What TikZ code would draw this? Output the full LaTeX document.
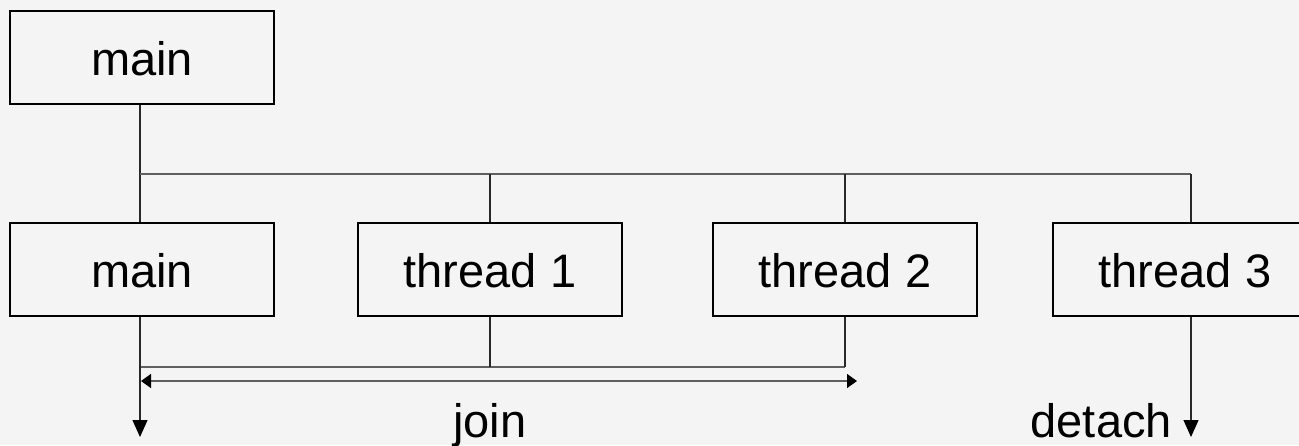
\documentclass[tikz,border=0pt]{standalone}
\usepackage{fontspec}
\setmainfont{Liberation Sans}
\usetikzlibrary{arrows.meta,calc}
\definecolor{bg}{RGB}{244,244,244}
\definecolor{wire}{RGB}{40,40,40}
\definecolor{rail}{RGB}{95,95,95}
\begin{document}
\begin{tikzpicture}[x=1pt,y=-1pt,
  every node/.style={font=\fontsize{47}{56}\selectfont},
  taskbox/.style={draw=black,line width=1.1pt,rectangle,inner sep=0pt,
    minimum width=264pt,minimum height=93pt,text height=36pt,text depth=0pt},
  wireline/.style={draw=wire,line width=1.1pt},
  railline/.style={draw=rail,line width=1.3pt},
  downtip/.style={-{Triangle[width=15pt,length=17pt,color=black,fill=black]}},
  sidetip/.style={{Triangle[width=14pt,length=10pt,color=black,fill=black]}-{Triangle[width=14pt,length=10pt,color=black,fill=black]}}]
  \fill[bg] (0,0) rectangle (1299,445);
  \useasboundingbox (0,0) rectangle (1299,445);

  % thread boxes
  \node[taskbox] (top) at (142,57.5) {main};
  \node[taskbox] (m)  at (142,269.5) {main};
  \node[taskbox] (t1) at (490,269.5) {thread 1};
  \node[taskbox] (t2) at (845,269.5) {thread 2};
  \begin{scope}
    \clip (0,0) rectangle (1299,445);
    \node[taskbox] (t3) at (1185,269.5) {thread 3};
  \end{scope}

  % fork bar
  \coordinate (f0) at (140,174);
  \coordinate (f1) at (490,174);
  \coordinate (f2) at (845,174);
  \coordinate (f3) at (1191,174);
  \draw[wireline] (f0 |- top.south) -- (f0) -- (f0 |- m.north);
  \draw[railline] (f0) -- (f3);
  \draw[wireline] (f1) -- (f1 |- t1.north);
  \draw[wireline] (f2) -- (f2 |- t2.north);
  \draw[wireline] (f3) -- (f3 |- t3.north);

  % join bracket
  \coordinate (j0) at (140,367);
  \coordinate (j2) at (845,367);
  \draw[railline] (j0) -- (j2);
  \draw[wireline] (t1.south) -- (t1.south |- j0);
  \draw[wireline] (j2 |- t2.south) -- (j2);

  % join span arrow
  \coordinate (a0) at (141,381);
  \coordinate (a1) at (857,381);
  \draw[railline,sidetip] (a0) -- (a1);

  % end points of main and thread 3
  \coordinate (mend) at (140,437);
  \coordinate (dend) at (1191,437);
  \draw[wireline,downtip] (f0 |- m.south) -- (mend);
  \draw[wireline,downtip] (f3 |- t3.south) -- (dend);

  % labels
  \node[anchor=base,inner sep=0pt] (join) at (490,437) {join};
  \node[anchor=base east,inner sep=0pt] (detach) at (1172,437) {detach};
\end{tikzpicture}
\end{document}
